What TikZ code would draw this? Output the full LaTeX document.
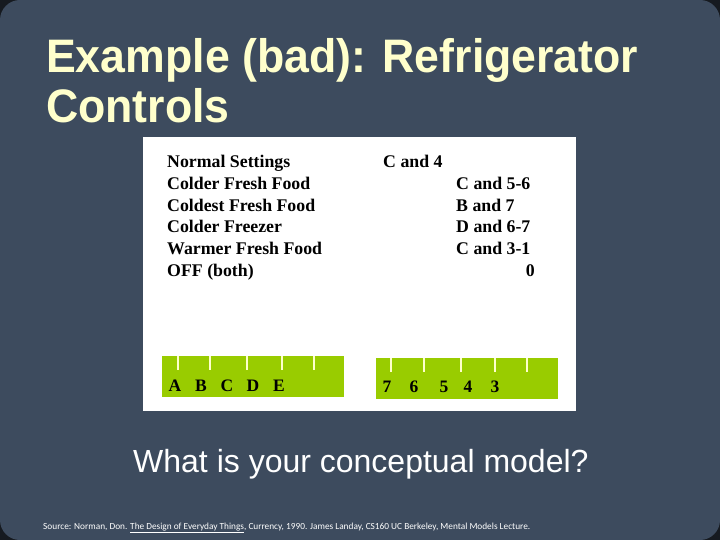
\documentclass[tikz,border=0pt]{standalone}
\usepackage{fontspec}
\setmainfont{Liberation Serif}
\setsansfont{Liberation Sans}
\newfontfamily\notefont{Carlito}
\usetikzlibrary{positioning}
\definecolor{slate}{HTML}{3D4B5E}
\definecolor{cream}{HTML}{FFFFCC}
\definecolor{leaf}{HTML}{99CC00}
\definecolor{edge}{HTML}{161A20}
\tikzset{
  titletext/.style={
    text=cream, font=\sffamily\bfseries\fontsize{47}{50}\selectfont,
    anchor=base west, inner sep=0pt, xscale=0.95, transform shape
  },
  rowtext/.style={
    font=\bfseries\fontsize{17.8}{21}\selectfont,
    anchor=base west, inner sep=0pt
  },
  dialbar/.style={fill=leaf, draw=none},
  dialtick/.style={draw=cream, line width=1.3pt},
  diallabel/.style={
    font=\bfseries\fontsize{17.5}{20}\selectfont,
    anchor=base, inner sep=0pt
  },
  asktext/.style={
    text=white, font=\sffamily\fontsize{32}{36}\selectfont,
    anchor=base west, inner sep=0pt
  },
  sourcetext/.style={
    text=white, font=\notefont\fontsize{9.3}{11}\selectfont,
    anchor=base west, inner sep=0pt
  },
}

\begin{document}
\begin{tikzpicture}[x=1pt, y=-1pt]
  \useasboundingbox (0,0) rectangle (720,540);
  \fill[edge] (0,0) rectangle (720,540);
  \fill[slate, rounded corners=20pt] (0,0) rectangle (720,540);

  % title
  \node[titletext] (title1) at (46,73) {Example (bad): Refrigerator};
  \node[titletext] (title2) at ([yshift=-50pt]title1.base west) {Controls};

  % panel
  \node[fill=white, minimum width=433pt, minimum height=274pt, inner sep=0pt,
        anchor=north west] (panel) at (143,137) {};

  % settings and dial positions
  \foreach \y/\setting in {168/Normal Settings, 190/Colder Fresh Food,
      211.5/Coldest Fresh Food, 233/Colder Freezer,
      254.5/Warmer Fresh Food, 276/OFF (both)}
    \node[rowtext] at (167,\y) {\setting};
  \node[rowtext] (normal) at (383,168) {C and 4};
  \foreach \y/\combo in {190/C and 5-6, 211.5/B and 7, 233/D and 6-7, 254.5/C and 3-1}
    \node[rowtext] at (456,\y) {\combo};
  \node[rowtext, anchor=base east] (off) at (535,276) {0};

  % fresh food dial
  \node[dialbar, minimum width=182pt, minimum height=41pt, inner sep=0pt,
        anchor=north west] (fooddial) at (162,356) {};
  \foreach \x in {178,210,247,282,314}
    \draw[dialtick] (\x,356) -- (\x,370);
  \foreach \x/\pos in {175/A, 201/B, 227/C, 253/D, 279/E}
    \node[diallabel] at (\x,391) {\pos};

  % freezer dial
  \node[dialbar, minimum width=182pt, minimum height=41pt, inner sep=0pt,
        anchor=north west] (freezerdial) at (376,358) {};
  \foreach \x in {391,424,461,495,527}
    \draw[dialtick] (\x,358) -- (\x,372);
  \foreach \x/\pos in {387/7, 414/6, 444/5, 468/4, 495/3}
    \node[diallabel] at (\x,392) {\pos};

  % question and source
  \node[asktext] (ask) at (133,472) {What is your conceptual model?};
  \node[sourcetext] (source) at (43,529) {Source: Norman, Don. \underline{The Design of Everyday Things}, Currency, 1990. James Landay, CS160 UC Berkeley, Mental Models Lecture.};
\end{tikzpicture}
\end{document}
